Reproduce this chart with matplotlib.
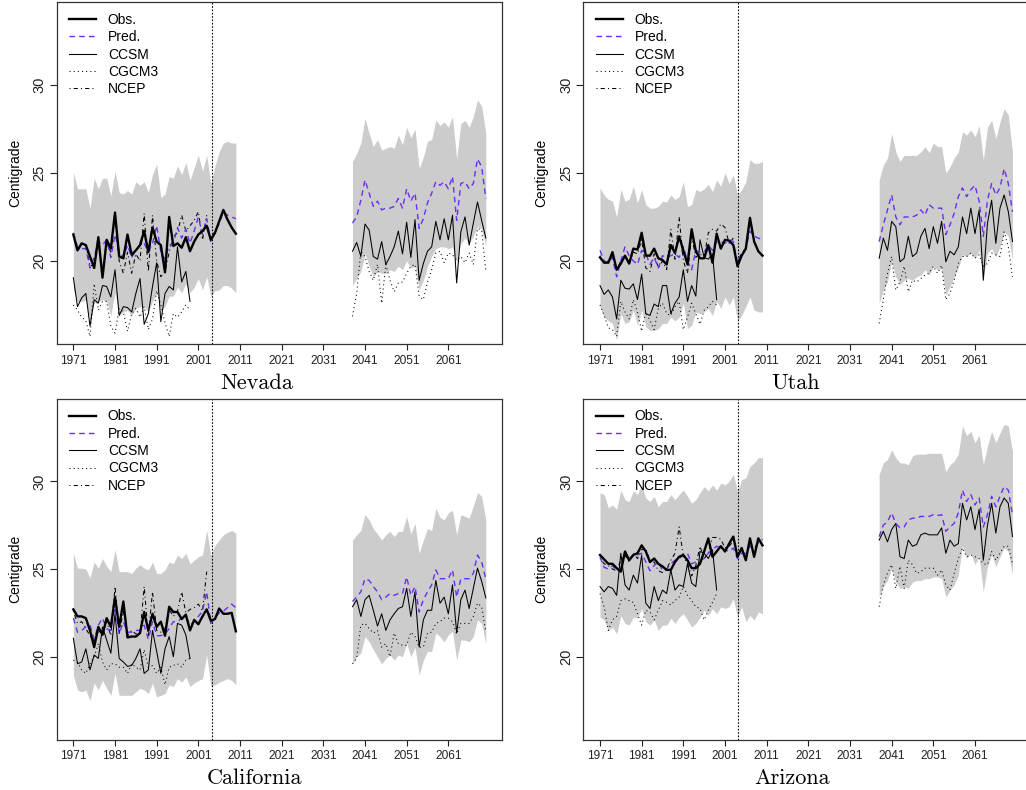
import matplotlib.pyplot as plt
from matplotlib.lines import Line2D

# --- years ---
yrs_hist = list(range(1971, 2011))   # observed / predicted / band, 1971-2010
yrs_gcm = list(range(1971, 2000))    # CCSM, CGCM3 historical runs
yrs_ncep = list(range(1971, 2004))   # NCEP reanalysis
yrs_fut = list(range(2038, 2071))    # future projections
split_year = 2004.2

# --- Nevada ---
nv_obs = [21.5, 20.6, 21.0, 20.9, 20.25, 19.6, 21.35, 19.05, 21.2, 20.7,
          22.75, 20.25, 20.15, 21.5, 20.35, 20.6, 20.9, 21.7, 20.5, 21.9,
          21.1, 20.9, 19.35, 22.5, 20.85, 21.0, 20.75, 21.35, 20.55, 21.1,
          21.5, 21.7, 22.0, 21.2, 21.6, 22.25, 22.9, 22.35, 21.9, 21.55]
nv_pred_hist = [21.6, 20.8, 20.7, 20.7, 19.6, 20.2, 21.1, 20.9, 21.2, 20.2,
                21.5, 20.6, 20.2, 20.9, 20.2, 20.6, 20.9, 21.0, 20.5, 21.0,
                22.0, 20.5, 20.1, 20.9, 21.0, 21.9, 21.3, 21.8, 21.0, 21.7,
                22.5, 21.5, 22.4, 21.1, 21.7, 22.1, 22.8, 22.6, 22.5, 22.4]
nv_ccsm_hist = [19.05, 17.4, 17.9, 18.15, 16.3, 17.8, 17.6, 18.6, 18.55, 17.95,
                19.5, 16.9, 17.4, 17.35, 17.1, 18.15, 19.0, 16.4, 17.0, 18.55,
                19.9, 16.55, 18.15, 18.55, 18.35, 20.8, 18.8, 19.4, 17.7]
nv_cgcm_hist = [17.5, 17.2, 16.8, 16.6, 15.7, 18.7, 17.2, 17.7, 17.7, 16.3,
                15.9, 17.3, 17.1, 16.0, 17.0, 17.3, 16.8, 17.4, 16.1, 16.7,
                18.3, 17.5, 16.5, 15.7, 17.0, 16.8, 17.1, 17.5, 17.2]
nv_ncep = [21.4, 20.6, 21.0, 20.9, 19.7, 19.8, 21.0, 19.3, 21.0, 20.5,
           22.5, 20.0, 19.3, 20.5, 19.3, 20.4, 20.0, 22.7, 19.4, 22.6,
           20.0, 19.1, 19.4, 20.5, 21.4, 21.6, 22.6, 21.7, 22.0, 22.3,
           22.8, 21.2, 22.6]
nv_hi_hist = [25.05, 24.1, 24.1, 24.1, 23.0, 24.7, 24.1, 24.7, 24.7, 23.7,
              25.1, 23.9, 23.8, 24.0, 23.8, 24.5, 24.3, 24.5, 23.9, 24.9,
              25.5, 23.6, 23.8, 24.8, 24.7, 25.4, 24.9, 25.6, 24.6, 25.3,
              26.0, 25.1, 26.0, 24.4, 25.4, 26.2, 26.7, 26.8, 26.7, 26.7]
nv_lo_hist = [18.35, 17.7, 17.7, 17.8, 16.6, 17.6, 17.7, 17.8, 17.7, 16.9,
              18.2, 16.9, 17.1, 17.2, 16.9, 17.3, 17.4, 17.4, 17.1, 17.7,
              18.2, 17.2, 17.4, 18.0, 18.0, 18.5, 18.2, 18.7, 18.2, 18.5,
              19.0, 18.35, 19.1, 18.0, 18.3, 18.35, 18.6, 18.6, 18.45, 18.2]
nv_hi_fut = [25.65, 26.1, 26.7, 28.1, 27.25, 26.5, 26.9, 26.3, 26.4, 26.5,
             26.4, 27.15, 26.6, 27.6, 27.0, 27.5, 25.25, 25.9, 26.8, 26.9,
             28.0, 27.7, 27.9, 27.6, 28.2, 25.8, 27.8, 28.0, 27.6, 28.2,
             29.15, 28.8, 27.25]
nv_lo_fut = [18.6, 19.0, 19.4, 20.4, 19.7, 19.1, 19.4, 19.3, 19.3, 19.5,
             19.4, 19.7, 19.5, 20.0, 19.6, 19.7, 18.35, 18.9, 19.7, 20.25,
             20.7, 20.8, 20.8, 20.7, 20.8, 19.9, 21.0, 21.3, 21.0, 21.4,
             21.95, 21.8, 20.8]
nv_pred_fut = [22.15, 22.5, 23.45, 24.6, 23.85, 23.1, 23.4, 22.9, 23.0, 23.0,
               23.1, 23.55, 23.0, 24.1, 23.4, 23.85, 21.85, 22.4, 23.3, 23.85,
               24.5, 24.3, 24.5, 24.1, 24.8, 22.3, 24.4, 24.5, 24.1, 24.4,
               25.8, 25.35, 23.55]
nv_ccsm_fut = [20.55, 21.05, 20.25, 22.1, 21.75, 20.25, 20.1, 21.1, 19.8, 20.25,
               20.8, 21.7, 20.4, 22.2, 20.2, 22.35, 18.9, 19.85, 20.55, 20.8,
               22.25, 21.2, 22.4, 21.2, 22.6, 18.75, 21.65, 22.5, 20.9, 22.15,
               23.35, 22.3, 21.3]
nv_cgcm_fut = [16.85, 18.15, 20.55, 20.25, 19.4, 18.9, 19.8, 17.6, 19.8, 18.9,
               18.25, 18.75, 18.8, 19.3, 19.7, 19.8, 18.0, 17.8, 18.8, 19.5,
               20.45, 20.55, 19.9, 20.45, 20.35, 20.05, 20.25, 19.9, 20.45, 19.8,
               21.85, 21.75, 19.4]

# --- Utah ---
ut_obs = [20.2, 19.9, 19.9, 20.5, 19.5, 19.85, 20.3, 19.85, 20.7, 20.65,
          21.6, 20.3, 20.3, 20.7, 20.15, 20.05, 19.8, 20.9, 20.45, 21.4,
          20.6, 19.8, 21.8, 20.55, 20.15, 20.15, 20.9, 19.9, 21.55, 20.7,
          21.2, 21.15, 20.9, 19.7, 20.3, 20.7, 22.45, 21.1, 20.55, 20.3]
ut_pred_hist = [20.6, 20.0, 19.9, 20.2, 19.1, 20.0, 20.8, 20.3, 20.0, 19.8,
                20.6, 20.4, 19.8, 20.2, 19.6, 20.3, 20.2, 20.3, 20.4, 20.2,
                20.8, 20.0, 19.5, 20.6, 20.5, 20.5, 20.9, 20.6, 21.1, 21.1,
                21.0, 21.2, 21.1, 19.9, 20.5, 20.7, 21.7, 21.4, 21.3, 21.2]
ut_ccsm_hist = [18.6, 18.1, 18.35, 17.95, 16.7, 18.9, 18.45, 18.4, 18.7, 17.8,
                19.25, 17.0, 16.9, 17.55, 17.4, 18.6, 18.6, 17.0, 17.6, 17.95,
                19.5, 17.7, 18.6, 18.0, 21.2, 20.2, 20.1, 20.4, 17.8]
ut_cgcm_hist = [17.5, 16.9, 16.2, 16.1, 15.7, 17.7, 17.1, 16.7, 17.8, 17.1,
                16.0, 17.1, 16.6, 16.1, 17.3, 17.6, 17.0, 16.9, 17.4, 17.7,
                16.1, 16.8, 17.6, 17.0, 16.4, 17.2, 17.4, 17.7, 17.5]
ut_ncep = [20.3, 19.9, 20.0, 20.3, 19.5, 20.0, 20.3, 19.8, 20.5, 20.4,
           21.2, 19.6, 19.4, 20.4, 19.6, 20.0, 19.5, 21.8, 20.1, 22.5,
           20.0, 19.3, 21.4, 20.2, 20.4, 20.2, 21.6, 21.8, 21.7, 22.1,
           21.9, 21.0, 21.3]
ut_hi_hist = [24.15, 23.75, 23.5, 23.4, 22.5, 24.05, 23.4, 23.5, 24.25, 23.3,
              24.05, 23.2, 23.0, 23.0, 23.1, 23.4, 23.35, 23.75, 23.5, 23.65,
              24.5, 23.1, 23.2, 24.05, 23.95, 24.1, 24.35, 23.95, 24.6, 24.25,
              25.0, 24.4, 24.9, 23.75, 24.05, 24.5, 25.75, 25.55, 25.55, 25.65]
ut_lo_hist = [17.4, 16.8, 16.6, 16.45, 15.5, 17.0, 16.45, 16.55, 17.2, 16.35,
              17.2, 16.25, 16.05, 16.05, 16.15, 16.45, 16.45, 16.8, 16.6, 16.8,
              17.6, 16.15, 16.35, 17.1, 17.0, 17.1, 17.3, 16.9, 17.7, 17.3,
              17.95, 17.5, 17.95, 16.6, 16.9, 17.4, 17.95, 17.2, 17.1, 17.1]
ut_hi_fut = [24.6, 25.45, 25.85, 27.25, 26.2, 25.65, 26.0, 26.0, 26.0, 26.0,
             26.2, 26.5, 26.15, 26.7, 26.5, 26.5, 25.0, 25.35, 25.85, 26.2,
             27.35, 27.15, 27.45, 27.05, 27.7, 25.75, 27.6, 28.0, 26.95, 27.9,
             28.65, 28.3, 26.2]
ut_lo_fut = [17.6, 18.35, 18.8, 19.95, 19.1, 18.65, 18.9, 19.0, 18.9, 19.1,
             19.2, 19.5, 19.2, 19.7, 19.5, 19.6, 18.05, 18.55, 19.1, 19.6,
             20.35, 20.25, 20.45, 20.15, 20.6, 19.1, 20.45, 20.7, 20.25, 20.8,
             21.65, 21.4, 20.05]
ut_pred_fut = [21.1, 22.05, 22.9, 23.75, 22.5, 22.05, 22.5, 22.5, 22.5, 22.6,
               22.9, 22.6, 23.2, 23.0, 23.0, 23.0, 21.5, 22.05, 22.7, 23.65,
               24.15, 23.65, 24.05, 24.3, 23.4, 21.4, 23.45, 24.4, 23.75, 24.15,
               25.25, 24.4, 22.8]
ut_ccsm_fut = [20.15, 21.3, 20.6, 22.25, 21.95, 19.95, 20.15, 21.4, 20.25, 20.45,
               21.4, 21.85, 20.7, 21.95, 21.0, 22.25, 19.95, 20.55, 20.35, 20.8,
               22.5, 21.55, 23.0, 21.55, 22.9, 18.9, 22.15, 23.45, 21.0, 23.0,
               23.75, 22.8, 21.1]
ut_cgcm_fut = [16.45, 17.8, 19.3, 20.25, 18.35, 18.8, 19.7, 18.25, 18.9, 18.8,
               19.0, 19.2, 19.3, 19.7, 19.3, 19.75, 17.8, 18.15, 18.9, 19.85,
               20.25, 20.25, 20.45, 20.15, 20.35, 19.7, 19.85, 20.45, 20.35, 20.25,
               21.65, 20.8, 19.1]

# --- California ---
ca_obs = [22.7, 22.3, 22.3, 22.2, 21.5, 20.55, 21.7, 21.25, 22.2, 21.7,
          23.4, 21.7, 23.15, 21.1, 21.15, 21.15, 21.35, 22.55, 21.5, 22.45,
          21.7, 22.0, 21.2, 22.85, 22.55, 22.55, 22.15, 22.4, 21.5, 22.1,
          21.85, 22.3, 22.7, 22.05, 22.15, 22.75, 22.45, 22.45, 22.5, 21.45]
ca_pred_hist = [22.2, 21.4, 21.5, 21.7, 21.8, 21.0, 21.8, 22.2, 21.6, 21.5,
                22.8, 21.3, 22.0, 21.4, 21.4, 21.5, 21.5, 21.8, 21.0, 22.0,
                21.2, 21.2, 21.3, 21.6, 22.0, 22.0, 22.2, 22.3, 21.8, 22.0,
                22.3, 22.6, 23.7, 21.9, 22.2, 22.5, 22.6, 22.8, 23.0, 22.8]
ca_ccsm_hist = [21.05, 19.6, 19.7, 20.45, 19.25, 20.1, 19.9, 21.7, 20.95, 20.2,
                22.45, 19.9, 19.7, 19.45, 19.5, 19.9, 20.45, 19.05, 19.25, 21.5,
                20.3, 19.05, 20.45, 21.15, 20.0, 21.9, 21.8, 21.25, 19.9]
ca_cgcm_hist = [19.8, 19.7, 19.25, 19.05, 19.6, 20.0, 20.75, 19.7, 19.25, 19.6,
                19.6, 19.4, 19.4, 19.05, 19.6, 19.4, 19.25, 20.4, 19.4, 19.5,
                19.05, 19.4, 18.4, 19.4, 19.5, 19.6, 19.4, 19.8, 19.9]
ca_ncep = [22.6, 21.9, 22.0, 21.6, 21.2, 20.9, 21.4, 21.5, 22.0, 21.2,
           24.0, 21.3, 22.6, 21.2, 21.5, 21.3, 21.3, 24.0, 21.2, 23.7,
           21.5, 21.4, 21.6, 22.7, 22.3, 22.6, 23.7, 22.5, 22.7, 22.8,
           23.0, 22.6, 24.85]
ca_hi_hist = [25.9, 25.05, 25.05, 25.0, 24.5, 25.4, 25.05, 25.6, 25.15, 24.85,
              26.1, 24.85, 24.85, 24.85, 24.75, 25.05, 25.25, 25.05, 24.95, 25.4,
              24.75, 24.75, 24.95, 25.4, 25.3, 25.8, 25.6, 25.9, 25.3, 25.5,
              25.7, 25.8, 27.2, 25.8, 26.35, 26.65, 26.95, 27.1, 27.2, 27.05]
ca_lo_hist = [18.95, 18.1, 18.0, 18.1, 17.5, 18.5, 18.1, 18.65, 18.2, 17.8,
              19.05, 17.8, 17.8, 17.8, 17.8, 18.0, 18.2, 18.1, 17.9, 18.5,
              17.7, 17.8, 17.9, 18.4, 18.3, 18.75, 18.55, 18.85, 18.3, 18.5,
              18.65, 18.75, 20.1, 18.3, 18.4, 18.55, 18.65, 18.75, 18.65, 18.4]
ca_hi_fut = [26.65, 26.95, 27.2, 28.1, 27.8, 27.3, 27.0, 26.65, 26.95, 27.15,
             26.85, 27.15, 27.15, 28.0, 27.0, 27.6, 25.9, 26.65, 27.3, 27.2,
             28.45, 27.95, 27.8, 28.2, 28.35, 26.95, 28.1, 28.0, 27.9, 28.6,
             29.35, 29.15, 27.8]
ca_lo_fut = [19.6, 20.0, 20.2, 21.15, 20.85, 20.4, 20.0, 19.6, 19.9, 20.1,
             19.8, 20.1, 20.0, 20.75, 20.0, 20.55, 18.95, 19.8, 20.3, 20.3,
             21.35, 21.15, 20.85, 21.25, 21.45, 19.8, 20.95, 20.95, 20.85, 21.15,
             22.1, 21.9, 20.75]
ca_pred_fut = [23.15, 23.4, 23.7, 24.45, 24.35, 24.0, 23.7, 23.25, 23.4, 23.6,
               23.5, 23.6, 23.6, 24.55, 23.5, 24.0, 22.55, 23.25, 23.7, 24.1,
               24.95, 24.45, 24.45, 24.45, 24.95, 23.4, 24.45, 24.45, 24.45, 24.75,
               25.8, 25.4, 24.45]
ca_ccsm_fut = [22.85, 23.25, 22.3, 23.25, 23.5, 22.65, 21.75, 22.45, 21.5, 22.1,
               22.45, 22.75, 22.85, 23.9, 22.3, 23.7, 20.55, 22.1, 22.65, 22.65,
               24.35, 23.05, 23.4, 22.45, 24.1, 21.35, 23.25, 23.8, 22.75, 23.9,
               25.05, 24.3, 23.35]
ca_cgcm_fut = [19.6, 19.9, 21.8, 21.9, 21.6, 21.35, 21.5, 20.55, 20.75, 20.0,
               21.35, 20.75, 20.65, 20.65, 21.4, 21.15, 20.55, 20.55, 21.35, 21.4,
               21.9, 22.0, 22.2, 22.2, 22.0, 21.3, 21.9, 21.9, 21.9, 22.3,
               23.05, 22.85, 21.4]

# --- Arizona ---
az_obs = [25.8, 25.55, 25.3, 25.3, 25.05, 24.85, 26.0, 25.5, 25.8, 25.9,
          26.35, 26.0, 25.4, 25.6, 25.3, 25.15, 24.95, 24.95, 25.4, 25.7,
          25.8, 25.5, 25.05, 25.05, 25.3, 26.0, 26.75, 25.7, 26.0, 26.3,
          26.0, 26.45, 26.85, 25.7, 26.2, 25.5, 26.75, 25.7, 26.75, 26.35]
az_pred_hist = [25.7, 25.1, 25.0, 25.2, 24.9, 25.0, 26.0, 25.6, 25.8, 25.8,
                25.9, 25.4, 24.9, 25.2, 25.4, 24.9, 25.0, 25.3, 25.5, 25.6,
                25.8, 25.9, 25.3, 25.4, 25.5, 25.6, 25.9, 26.1, 26.3, 26.2,
                26.1, 26.0, 26.2, 25.6, 25.9, 25.9, 26.3, 26.2, 26.5, 26.7]
az_ccsm_hist = [24.0, 23.7, 24.0, 23.9, 23.5, 25.9, 24.1, 23.8, 24.65, 24.2,
                25.8, 23.05, 22.75, 24.0, 23.2, 23.8, 23.6, 24.95, 23.8, 24.1,
                24.0, 25.3, 24.2, 24.0, 26.0, 25.9, 25.6, 26.1, 23.8]
az_cgcm_hist = [23.6, 22.85, 21.5, 22.1, 22.3, 23.2, 23.3, 23.2, 23.1, 22.45,
                21.8, 22.65, 22.55, 22.1, 22.65, 23.2, 23.1, 22.95, 23.2, 23.4,
                24.0, 23.5, 23.2, 22.85, 22.75, 22.1, 22.65, 23.1, 23.6]
az_ncep = [25.6, 25.3, 25.2, 25.0, 24.9, 25.5, 25.8, 25.4, 25.9, 25.6,
           26.1, 26.2, 25.4, 25.4, 24.9, 24.8, 25.0, 25.5, 25.9, 27.4,
           25.7, 25.3, 24.6, 25.2, 26.3, 25.6, 25.9, 26.8, 26.8, 26.7,
           26.2, 26.3, 26.6]
az_hi_hist = [29.35, 29.25, 28.5, 28.65, 28.4, 29.5, 28.95, 28.85, 29.45, 29.25,
              29.8, 29.05, 28.85, 29.15, 28.55, 28.85, 28.85, 29.25, 28.95, 29.25,
              29.5, 29.15, 28.75, 28.95, 29.35, 29.7, 29.45, 29.8, 29.5, 29.9,
              29.8, 30.0, 30.4, 29.45, 30.1, 30.2, 30.85, 31.05, 31.35, 31.35]
az_lo_hist = [22.25, 22.1, 21.5, 21.7, 21.3, 22.35, 21.9, 21.8, 22.25, 22.2,
              22.75, 22.0, 21.8, 22.1, 21.5, 21.8, 21.8, 22.2, 21.9, 22.25,
              22.45, 22.1, 21.7, 21.9, 22.25, 22.65, 22.35, 22.75, 22.45, 22.85,
              22.75, 22.85, 23.3, 22.25, 22.85, 22.0, 22.35, 22.1, 22.55, 22.45]
az_hi_fut = [30.4, 31.05, 31.25, 31.8, 31.35, 31.05, 31.05, 30.95, 31.45, 31.55,
             31.55, 31.55, 31.6, 31.6, 31.6, 31.6, 30.55, 30.95, 31.15, 31.55,
             33.15, 32.6, 32.85, 32.2, 32.65, 30.95, 32.0, 32.85, 32.2, 32.75,
             33.25, 33.15, 31.7]
az_lo_fut = [23.4, 24.0, 24.35, 25.05, 24.25, 23.9, 24.0, 23.9, 24.25, 24.35,
             24.35, 24.45, 24.45, 24.55, 24.55, 24.45, 23.4, 23.8, 24.1, 24.65,
             26.3, 25.6, 25.9, 25.25, 25.7, 23.7, 25.15, 25.8, 25.15, 25.7,
             26.2, 26.0, 24.65]
az_pred_fut = [26.85, 27.5, 27.7, 28.2, 27.6, 27.35, 27.4, 27.8, 27.9, 27.9,
               28.0, 28.0, 28.0, 28.1, 28.05, 28.1, 27.15, 27.4, 27.6, 28.2,
               29.5, 28.85, 29.25, 28.65, 29.05, 27.4, 28.1, 29.15, 28.55, 29.15,
               29.7, 29.5, 28.1]
az_ccsm_fut = [26.65, 27.15, 26.55, 27.25, 27.6, 25.7, 25.6, 26.65, 26.3, 26.4,
               26.95, 27.05, 26.95, 26.95, 26.95, 27.35, 25.9, 26.65, 26.3, 26.45,
               28.75, 27.8, 28.55, 27.25, 28.4, 25.5, 27.5, 28.75, 27.05, 28.55,
               29.05, 28.75, 26.85]
az_cgcm_fut = [22.85, 24.1, 24.75, 25.25, 23.9, 25.15, 23.9, 25.5, 25.25, 24.75,
               24.85, 25.05, 25.05, 25.05, 24.65, 24.95, 24.1, 23.8, 24.75, 25.6,
               26.2, 25.7, 25.8, 25.7, 25.6, 25.3, 25.25, 26.0, 25.5, 25.9,
               26.3, 26.3, 25.3]

x_ticks = list(range(1971, 2062, 10))
y_ticks = [20, 25, 30]

plt.rcParams['font.family'] = ['Liberation Sans', 'DejaVu Sans']

PURPLE = '#6B2DF0'
BAND = '#cccccc'

panels = [
    ("Nevada", [0.0554, 0.5646, 0.4342, 0.4329], 0.448,
     dict(obs=nv_obs, ph=nv_pred_hist, ch=nv_ccsm_hist, gh=nv_cgcm_hist, ncep=nv_ncep,
          hh=nv_hi_hist, lh=nv_lo_hist, hf=nv_hi_fut, lf=nv_lo_fut,
          pf=nv_pred_fut, cf=nv_ccsm_fut, gf=nv_cgcm_fut)),
    ("Utah", [0.5687, 0.5646, 0.4342, 0.4329], 0.475,
     dict(obs=ut_obs, ph=ut_pred_hist, ch=ut_ccsm_hist, gh=ut_cgcm_hist, ncep=ut_ncep,
          hh=ut_hi_hist, lh=ut_lo_hist, hf=ut_hi_fut, lf=ut_lo_fut,
          pf=ut_pred_fut, cf=ut_ccsm_fut, gf=ut_cgcm_fut)),
    ("California", [0.0554, 0.0639, 0.4342, 0.4316], 0.443,
     dict(obs=ca_obs, ph=ca_pred_hist, ch=ca_ccsm_hist, gh=ca_cgcm_hist, ncep=ca_ncep,
          hh=ca_hi_hist, lh=ca_lo_hist, hf=ca_hi_fut, lf=ca_lo_fut,
          pf=ca_pred_fut, cf=ca_ccsm_fut, gf=ca_cgcm_fut)),
    ("Arizona", [0.5687, 0.0639, 0.4342, 0.4316], 0.468,
     dict(obs=az_obs, ph=az_pred_hist, ch=az_ccsm_hist, gh=az_cgcm_hist, ncep=az_ncep,
          hh=az_hi_hist, lh=az_lo_hist, hf=az_hi_fut, lf=az_lo_fut,
          pf=az_pred_fut, cf=az_ccsm_fut, gf=az_cgcm_fut)),
]

fig = plt.figure(figsize=(10.26, 7.90), dpi=100)

for name, pos, title_x, d in panels:
    ax = fig.add_axes(pos)
    # prediction bands
    ax.fill_between(yrs_hist, d['lh'], d['hh'], color=BAND, lw=0)
    ax.fill_between(yrs_fut, d['lf'], d['hf'], color=BAND, lw=0)
    # GCM runs
    ax.plot(yrs_gcm, d['gh'], color='black', lw=0.75, dashes=(1, 3))
    ax.plot(yrs_fut, d['gf'], color='black', lw=0.75, dashes=(1, 3))
    ax.plot(yrs_gcm, d['ch'], color='black', lw=0.75)
    ax.plot(yrs_fut, d['cf'], color='black', lw=0.75)
    ax.plot(yrs_ncep, d['ncep'], color='black', lw=0.75, dashes=(1, 3, 4, 3))
    # predictions and observations
    ax.plot(yrs_hist, d['ph'], color=PURPLE, lw=1.0, dashes=(4, 3))
    ax.plot(yrs_fut, d['pf'], color=PURPLE, lw=1.0, dashes=(4, 3))
    ax.plot(yrs_hist, d['obs'], color='black', lw=1.7)
    ax.axvline(split_year, color='black', lw=0.8, dashes=(1.5, 1.5))

    ax.set_xlim(1967.04, 2073.96)
    ax.set_ylim(15.28, 34.72)
    ax.set_xticks(x_ticks)
    ax.set_xticklabels([str(t) for t in x_ticks])
    ax.set_yticks(y_ticks)
    ax.set_yticklabels([str(t) for t in y_ticks], rotation=90, va='center')
    ax.tick_params(axis='x', length=4.3, width=0.8, pad=3.5, labelsize=8.6, colors='#222222')
    ax.tick_params(axis='y', length=5, width=0.8, pad=2.5, labelsize=10.5, colors='#222222')
    for s in ax.spines.values():
        s.set_color('#333333')
        s.set_linewidth(0.9)

    ax.text(-42 / 445.5, 0.5, "Centigrade", rotation=90, ha='center', va='center',
            fontsize=10, transform=ax.transAxes)
    ax.text(title_x, -39 / 342, name, ha='center', va='center', fontsize=16,
            family='cmr10', transform=ax.transAxes)

    handles = [
        Line2D([], [], color='black', lw=1.7),
        Line2D([], [], color=PURPLE, lw=1.0, dashes=(4, 3)),
        Line2D([], [], color='black', lw=0.75),
        Line2D([], [], color='black', lw=0.75, dashes=(1, 3)),
        Line2D([], [], color='black', lw=0.75, dashes=(1, 3, 4, 3)),
    ]
    ax.legend(handles, ["Obs.", "Pred.", "CCSM", "CGCM3", "NCEP"],
              loc='upper left', bbox_to_anchor=(0.027, 0.968), frameon=False,
              fontsize=10, borderpad=0, borderaxespad=0, handlelength=1.95,
              handletextpad=0.85, labelspacing=0.24)

fig.savefig("out.png", dpi=100)
